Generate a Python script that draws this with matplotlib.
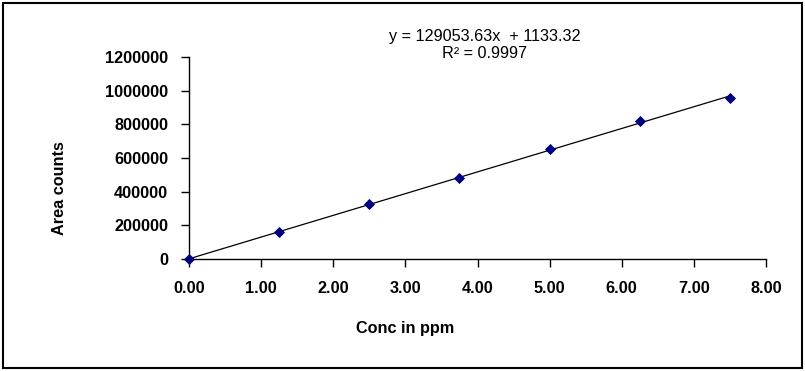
"""Calibration curve: area counts vs concentration with linear trend line."""

import matplotlib

matplotlib.use("Agg")
import matplotlib.pyplot as plt
import numpy as np
from matplotlib.patches import Rectangle

conc_ppm = [0.0, 1.25, 2.50, 3.75, 5.00, 6.25, 7.50]
area_counts = [0, 162000, 327000, 481000, 652000, 820000, 958000]
x_ticks = [0, 1, 2, 3, 4, 5, 6, 7, 8]
y_ticks = [0, 200000, 400000, 600000, 800000, 1000000, 1200000]
slope = 129053.63
intercept = 1133.32
r2 = 0.9997

plt.rcParams["font.family"] = ["Liberation Sans", "DejaVu Sans"]
FS = 11.7

W, H = 805, 371
fig = plt.figure(figsize=(W / 100, H / 100), dpi=100)
ax = fig.add_axes([189 / W, 1 - 259 / H, (766 - 189) / W, (259 - 57) / H])

# trend line over the data range
xs = np.array([conc_ppm[0], conc_ppm[-1]])
ax.plot(xs, slope * xs + intercept, color="black", lw=0.9, zorder=2)
ax.plot(conc_ppm, area_counts, "D", color="#000080", ms=5.6, mec="#000080", mew=0.6,
        zorder=3, clip_on=False)

ax.set_xlim(0, 8)
ax.set_ylim(0, 1200000)
ax.set_xticks(x_ticks)
ax.set_xticklabels([f"{v:.2f}" for v in x_ticks])
ax.set_yticks(y_ticks)
ax.set_yticklabels([str(v) for v in y_ticks])
for s in ("top", "right"):
    ax.spines[s].set_visible(False)
for s in ("left", "bottom"):
    ax.spines[s].set_linewidth(1.0)
ax.tick_params(direction="out", length=6, width=1.0, labelsize=FS)
ax.tick_params(axis="y", pad=9)
ax.tick_params(axis="x", pad=10)
for lab in ax.get_xticklabels() + ax.get_yticklabels():
    lab.set_fontweight("bold")

fig.text(405 / W, 1 - 329 / H, "Conc in ppm", ha="center", va="center",
         fontsize=FS, fontweight="bold")
fig.text(59 / W, 1 - 188 / H, "Area counts", ha="center", va="center",
         rotation=90, fontsize=FS, fontweight="bold")
fig.text(485 / W, 1 - 36 / H, f"y = {slope:.2f}x  + {intercept:.2f}", ha="center",
         va="center", fontsize=FS)
fig.text(485 / W, 1 - 54 / H, f"R² = {r2:.4f}", ha="center", va="center", fontsize=FS)

fig.patches.append(Rectangle((2.5 / W, 1 - 368 / H), (802 - 2.5) / W, (368 - 2.5) / H,
                             transform=fig.transFigure, fill=False, lw=1.5,
                             edgecolor="black"))

fig.savefig("out.png", dpi=100)
